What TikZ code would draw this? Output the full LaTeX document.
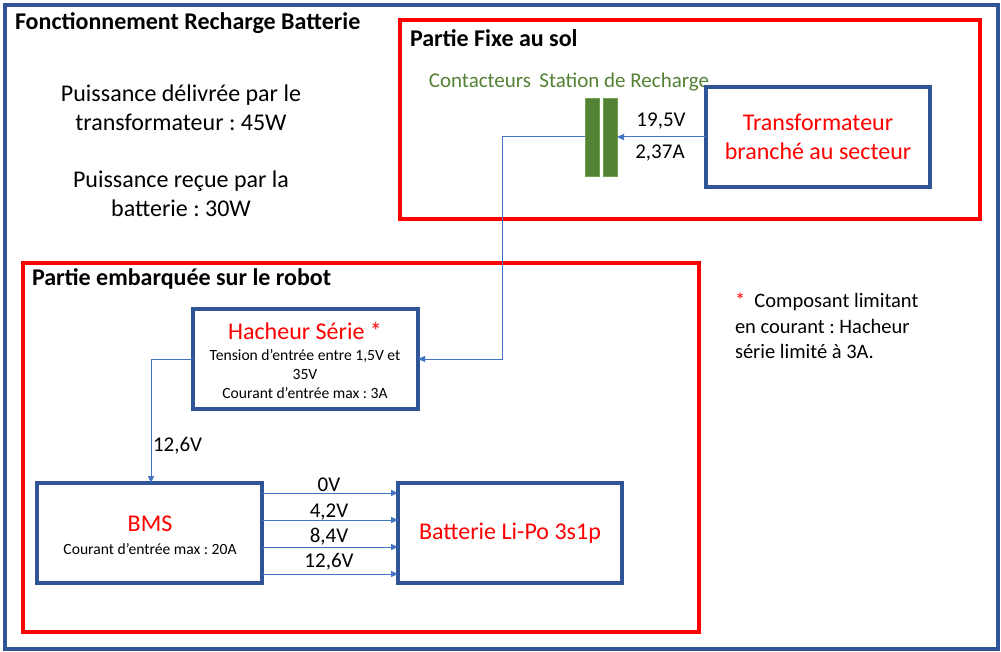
\documentclass[tikz,border=0pt]{standalone}
\usepackage{fontspec}
\setmainfont{Carlito}
\usetikzlibrary{arrows.meta}
\definecolor{frameblue}{HTML}{2F5597}
\definecolor{lineblue}{HTML}{4472C4}
\definecolor{cgreen}{HTML}{548235}
\definecolor{cgreenb}{HTML}{70A050}
\frenchspacing
\begin{document}
\begin{tikzpicture}[x=1pt,y=-1pt,
  every node/.style={inner sep=0pt,outer sep=0pt},
  big/.style={font=\fontsize{24}{29}\selectfont},
  bigb/.style={font=\fontsize{24}{29}\selectfont\bfseries},
  lbl/.style={font=\fontsize{21}{25}\selectfont},
  small/.style={font=\fontsize{15.6}{19}\selectfont},
  note/.style={font=\fontsize{20.5}{25.5}\selectfont},
  blk/.style={draw=frameblue,line width=3.5pt,rectangle,minimum height=100pt},
  bar/.style={draw=cgreenb,fill=cgreen,line width=0.8pt,minimum width=14pt,minimum height=78pt},
  conn/.style={draw=lineblue,line width=1pt,-{Triangle[length=7pt,width=6pt]}},
  redframe/.style={draw=red,line width=3.5pt}
]
\useasboundingbox (0,0) rectangle (1001,652);
\fill[white] (0,0) rectangle (1001,652);
% frames
\draw[draw=frameblue,line width=3.5pt] (5,5) rectangle (998,649);
\draw[redframe] (400,20) rectangle (980,219);
\draw[redframe] (23,263) rectangle (699,632);
% titles
\node[bigb,anchor=west] (title) at (15,23) {Fonctionnement Recharge Batterie};
\node[bigb,anchor=west] (fixe) at (410,38) {Partie Fixe au sol};
\node[bigb,anchor=west] (emb) at (32,279) {Partie embarquée sur le robot};
% power texts
\node[big,align=center] (p1) at (181,108) {Puissance délivrée par le\\transformateur : 45W};
\node[big,align=center] (p2) at (181,194) {Puissance reçue par la\\batterie : 30W};
% station
\node[lbl,text=cgreen] (cont) at (569,82) {Contacteurs\ \,Station de Recharge};
\node[bar] (bar1) at (592,137) {};
\node[bar] (bar2) at (610,137) {};
\node[blk,minimum width=224pt,align=center,big,text=red] (trans) at (818,137) {Transformateur\\branché au secteur};
\node[lbl] (v195) at (661,121) {19,5V};
\node[lbl] (a237) at (660,153) {2,37A};
% robot blocks
\node[blk,minimum width=225pt] (hach) at (305.5,359) {};
\node[big,text=red] (hacht) at (305,331) {Hacheur Série *};
\node[small,align=center] (hachs) at (305,374) {Tension d’entrée entre 1,5V et\\35V\\Courant d’entrée max : 3A};
\node[blk,minimum width=225pt] (bms) at (149.5,533) {};
\node[big,text=red] (bmst) at (150,524) {BMS};
\node[small] (bmss) at (150,549) {Courant d’entrée max : 20A};
\node[blk,minimum width=224pt,big,text=red] (bat) at (510,533) {Batterie Li-Po 3s1p};
% note
\node[note,align=left,anchor=west] (nt) at (735,326) {{\color{red}*}\ \ Composant limitant\\en courant : Hacheur\\série limité à 3A.};
% connectors
\draw[conn] (trans.west) -- (bar2.east);
\coordinate (bendA) at (502,137);
\draw[conn] (bar1.west) -- (bendA) |- (hach.east);
\draw[conn] (hach.west) -| ([xshift=1.5pt]bms.north);
\node[lbl,anchor=west] (v126a) at (153,446) {12,6V};
\draw[conn] ([yshift=40pt]bms.east) -- ([yshift=40pt]bat.west);
\draw[conn] ([yshift=13pt]bms.east) -- ([yshift=13pt]bat.west);
\draw[conn] ([yshift=-14pt]bms.east) -- ([yshift=-14pt]bat.west);
\draw[conn] ([yshift=-41pt]bms.east) -- ([yshift=-41pt]bat.west);
\node[lbl] (l0) at (329,485) {0V};
\node[lbl] (l1) at (329,512) {4,2V};
\node[lbl] (l2) at (329,537) {8,4V};
\node[lbl] (l3) at (329,562) {12,6V};
\end{tikzpicture}
\end{document}
